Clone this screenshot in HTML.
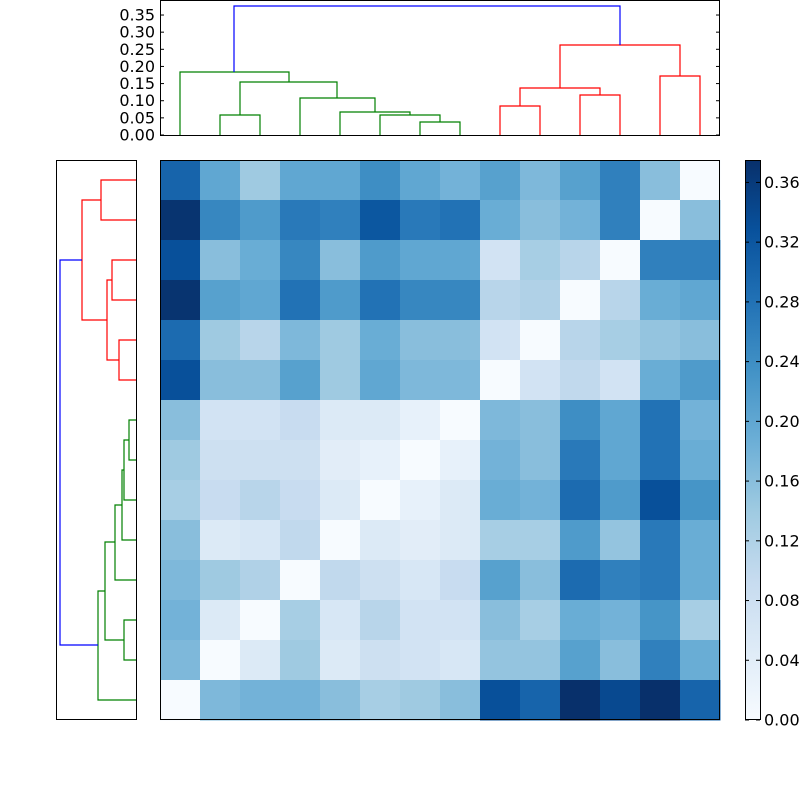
<!DOCTYPE html>
<html><head><meta charset="utf-8"><style>body{margin:0;background:#fff}svg{display:block}text{font-family:"DejaVu Sans","Liberation Sans",sans-serif;font-size:16px}</style></head>
<body>
<svg id="s" width="800" height="800" xmlns="http://www.w3.org/2000/svg">
<defs><linearGradient id="g" x1="0" y1="1" x2="0" y2="0">
<stop offset="0" stop-color="#f7fbff"/><stop offset="0.125" stop-color="#deebf7"/><stop offset="0.25" stop-color="#c6dbef"/><stop offset="0.375" stop-color="#9ecae1"/><stop offset="0.5" stop-color="#6baed6"/><stop offset="0.625" stop-color="#4292c6"/><stop offset="0.75" stop-color="#2171b5"/><stop offset="0.875" stop-color="#08519c"/><stop offset="1" stop-color="#08306b"/></linearGradient></defs>
<g id="hm"></g>
<rect x="160.5" y="160.5" width="559" height="559" fill="none" stroke="#000"/>
<!-- top dendrogram -->
<rect x="160.5" y="0.5" width="559" height="135" fill="none" stroke="#000"/>
<g fill="none" stroke-width="1.2">
<g stroke="#008000">
<path d="M420 135V122H460V135"/><path d="M380 135V115H440V122"/><path d="M340 135V112H410V115"/><path d="M300 135V98H375V112"/><path d="M220 135V115H260V135"/><path d="M240 115V82H337V98"/><path d="M180 135V72H289V82"/>
</g>
<g stroke="#ff0000">
<path d="M500 135V106H540V135"/><path d="M580 135V95H620V135"/><path d="M520 106V88H600V95"/><path d="M660 135V76H700V135"/><path d="M560 88V45H680V76"/>
</g>
<path stroke="#0000ff" d="M234 72V6H620V45"/>
</g>
<g id="yt" font-size="16"></g>
<!-- left dendrogram -->
<rect x="56.5" y="160.5" width="80" height="559" fill="none" stroke="#000"/>
<g fill="none" stroke-width="1.2">
<g stroke="#ff0000">
<path d="M136 180H101V220H136"/><path d="M136 260H112V300H136"/><path d="M136 340H119V380H136"/><path d="M112 280H107V360H119"/><path d="M101 200H82V320H107"/>
</g>
<g stroke="#008000">
<path d="M136 420H129V460H136"/><path d="M129 440H124V500H136"/><path d="M124 470H122V540H136"/><path d="M122 505H115V580H136"/><path d="M136 620H124V660H136"/><path d="M115 542H105V640H124"/><path d="M105 591H98V700H136"/>
</g>
<path stroke="#0000ff" d="M82 260H60V645H98"/>
</g>
<!-- colorbar -->
<rect x="745" y="160" width="15" height="560" fill="url(#g)"/>
<rect x="745.5" y="160.5" width="15" height="559" fill="none" stroke="#000"/>
<g id="cb"></g>
</svg>
<script>
var V=[[0.30,0.20,0.14,0.20,0.20,0.24,0.20,0.18,0.21,0.17,0.21,0.26,0.16,0.0],
[0.37,0.25,0.22,0.27,0.26,0.32,0.27,0.28,0.19,0.16,0.18,0.26,0.0,0.16],
[0.33,0.16,0.19,0.25,0.16,0.22,0.20,0.20,0.07,0.13,0.11,0.0,0.26,0.26],
[0.37,0.21,0.20,0.28,0.22,0.28,0.25,0.25,0.11,0.12,0.0,0.11,0.19,0.20],
[0.29,0.14,0.11,0.17,0.14,0.19,0.16,0.16,0.07,0.0,0.11,0.13,0.15,0.16],
[0.33,0.16,0.16,0.21,0.14,0.20,0.17,0.17,0.0,0.07,0.10,0.07,0.19,0.22],
[0.16,0.07,0.07,0.09,0.05,0.05,0.03,0.0,0.17,0.16,0.24,0.20,0.28,0.18],
[0.14,0.08,0.08,0.08,0.04,0.03,0.0,0.03,0.18,0.16,0.27,0.20,0.28,0.19],
[0.13,0.09,0.11,0.09,0.05,0.0,0.03,0.05,0.19,0.18,0.29,0.22,0.33,0.23],
[0.16,0.05,0.06,0.10,0.0,0.05,0.04,0.05,0.13,0.13,0.22,0.15,0.27,0.19],
[0.17,0.14,0.12,0.0,0.10,0.08,0.06,0.09,0.21,0.16,0.29,0.26,0.27,0.19],
[0.18,0.05,0.0,0.13,0.06,0.11,0.07,0.07,0.16,0.13,0.19,0.18,0.23,0.13],
[0.17,0.0,0.05,0.14,0.05,0.08,0.07,0.06,0.15,0.15,0.21,0.16,0.26,0.19],
[0.0,0.17,0.18,0.18,0.16,0.13,0.14,0.16,0.33,0.30,0.375,0.34,0.375,0.30]];
var C=[[247,251,255],[222,235,247],[198,219,239],[158,202,225],[107,174,214],[66,146,198],[33,113,181],[8,81,156],[8,48,107]];
function col(v){var t=Math.max(0,Math.min(1,v/0.375))*8,i=Math.min(7,Math.floor(t)),f=t-i,a=C[i],b=C[i+1];
return 'rgb('+[0,1,2].map(function(k){return Math.round(a[k]+(b[k]-a[k])*f)}).join(',')+')';}
var NS='http://www.w3.org/2000/svg',h='';
for(var r=0;r<14;r++)for(var c=0;c<14;c++)h+='<rect x="'+(160+c*40)+'" y="'+(160+r*40)+'" width="40.5" height="40.5" fill="'+col(V[r][c])+'"/>';
document.getElementById('hm').innerHTML=h;
var t='';
for(var i=0;i<=7;i++){var y=135-i*17.14;t+='<text x="155" y="'+(y+5.5)+'" text-anchor="end">'+(i*0.05).toFixed(2)+'</text><line x1="160" x2="164" y1="'+y+'" y2="'+y+'" stroke="#000"/><line x1="716" x2="720" y1="'+y+'" y2="'+y+'" stroke="#000"/>';}
document.getElementById('yt').innerHTML=t;
t='';
for(var i=0;i<=9;i++){var y=720-i*59.73;t+='<text x="764" y="'+(y+5.5)+'">'+(i*0.04).toFixed(2)+'</text><line x1="756" x2="760" y1="'+y+'" y2="'+y+'" stroke="#000"/><line x1="745" x2="749" y1="'+y+'" y2="'+y+'" stroke="#000"/>';}
document.getElementById('cb').innerHTML=t;
</script>
</body></html>
